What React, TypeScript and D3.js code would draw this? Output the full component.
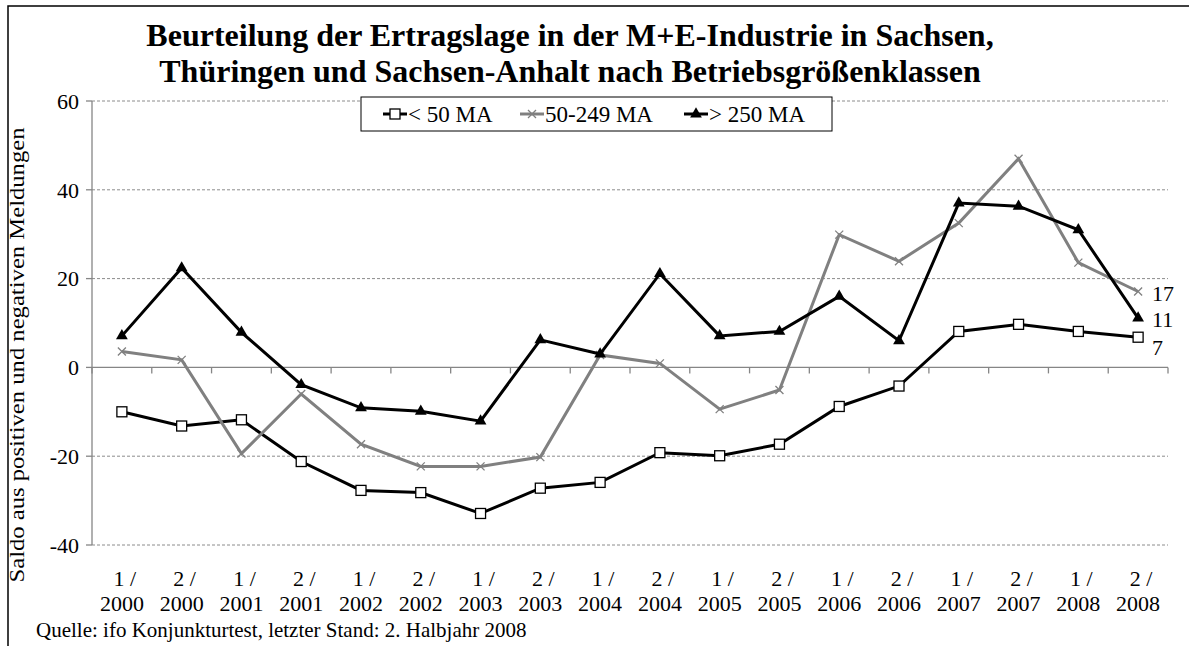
import React from 'react';
import * as d3 from 'd3';

// Halbjahre (1/2000 ... 2/2008)
const periods = [
  '1/2000', '2/2000', '1/2001', '2/2001', '1/2002', '2/2002', '1/2003', '2/2003', '1/2004',
  '2/2004', '1/2005', '2/2005', '1/2006', '2/2006', '1/2007', '2/2007', '1/2008', '2/2008',
];

const small = [-10, -13.2, -11.8, -21.2, -27.7, -28.2, -32.9, -27.2, -25.9, -19.2, -19.9, -17.3, -8.8, -4.2, 8.1, 9.7, 8.1, 6.8];
const medium = [3.6, 1.7, -19.4, -6.0, -17.3, -22.3, -22.3, -20.2, 2.8, 0.9, -9.4, -5.1, 29.9, 23.9, 32.5, 47.0, 23.6, 17.1];
const large = [7.1, 22.4, 7.9, -3.9, -9.1, -9.9, -12.1, 6.2, 3.0, 21.1, 7.1, 8.1, 16.0, 6.0, 37.0, 36.3, 31.0, 11.1];

const seriesNames = ['< 50 MA', '50-249 MA', '> 250 MA'];
const endLabels = ['7', '17', '11'];
const yTicks = [-40, -20, 0, 20, 40, 60];

const W = 1189;
const H = 646;
const FONT = '"Liberation Serif", "Times New Roman", serif';

export default function App() {
  const x = d3.scaleBand<string>().domain(periods).range([92, 1168]);
  const y = d3.scaleLinear().domain([-40, 60]).range([545, 101]);
  const cx = (p: string) => (x(p) ?? 0) + x.bandwidth() / 2;

  const line = d3.line<number>()
    .x((_, i) => cx(periods[i]))
    .y(d => y(d));

  const series = [
    { name: seriesNames[0], values: small, color: '#000', marker: 'square', label: endLabels[0], dy: 18 },
    { name: seriesNames[1], values: medium, color: '#808080', marker: 'cross', label: endLabels[1], dy: 10 },
    { name: seriesNames[2], values: large, color: '#000', marker: 'triangle', label: endLabels[2], dy: 9 },
  ];

  const marker = (kind: string, px: number, py: number, color: string, key: string | number) => {
    if (kind === 'square') {
      return <rect key={key} x={px - 5} y={py - 5} width={10} height={10} fill="#fff" stroke="#000" strokeWidth={1.3} />;
    }
    if (kind === 'triangle') {
      const tri = d3.symbol(d3.symbolTriangle, 60)();
      return <path key={key} d={tri ?? ''} transform={`translate(${px},${py})`} fill="#000" />;
    }
    const s = 4;
    return (
      <path key={key} d={`M${px - s},${py - s}L${px + s},${py + s}M${px - s},${py + s}L${px + s},${py - s}`}
        stroke={color} strokeWidth={1.3} fill="none" />
    );
  };

  const legendItems = [
    { lx: 395, tx: 408 },
    { lx: 532, tx: 545 },
    { lx: 696, tx: 709 },
  ];

  return (
    <svg width={W} height={H} style={{ position: 'absolute', left: 0, top: 0, background: '#fff' }} fontFamily={FONT}>
      <rect x={8} y={6} width={1300} height={800} fill="#fff" stroke="#000" strokeWidth={1.5} />

      {/* title */}
      <text x={570} y={46} textAnchor="middle" fontSize={32} fontWeight="bold" fill="#000">
        Beurteilung der Ertragslage in der M+E-Industrie in Sachsen,
      </text>
      <text x={570} y={82} textAnchor="middle" fontSize={32} fontWeight="bold" fill="#000">
        Thüringen und Sachsen-Anhalt nach Betriebsgrößenklassen
      </text>

      {/* gridlines */}
      {yTicks.filter(t => t !== 0).map(t => (
        <line key={t} x1={92} x2={1168} y1={y(t)} y2={y(t)} stroke="#8c8c8c" strokeWidth={1} strokeDasharray="3,2" />
      ))}

      {/* y axis */}
      <line x1={92} x2={92} y1={y(60)} y2={y(-40)} stroke="#868686" strokeWidth={1.3} />
      {yTicks.map(t => (
        <g key={t}>
          <line x1={86} x2={92} y1={y(t)} y2={y(t)} stroke="#868686" strokeWidth={1.3} />
          <text x={79} y={y(t)} dy="0.35em" textAnchor="end" fontSize={22} fill="#000">{t}</text>
        </g>
      ))}

      {/* x axis at zero */}
      <line x1={92} x2={1168} y1={y(0)} y2={y(0)} stroke="#868686" strokeWidth={1.3} />
      {[...periods.map(p => x(p) ?? 0), 1168].map((tx, i) => (
        <line key={i} x1={tx} x2={tx} y1={y(0)} y2={y(0) + 6} stroke="#868686" strokeWidth={1.3} />
      ))}

      {/* category labels */}
      {periods.map(p => {
        const [half, year] = p.split('/');
        return (
          <text key={p} x={cx(p)} textAnchor="middle" fontSize={22} fill="#000">
            <tspan x={cx(p) + 3} y={586}>{`${half} /`}</tspan>
            <tspan x={cx(p)} y={611}>{year}</tspan>
          </text>
        );
      })}

      {/* y axis title */}
      <text transform="translate(24,355) rotate(-90)" textAnchor="middle" fontSize={22} fill="#000"
        textLength={455} lengthAdjust="spacingAndGlyphs">
        Saldo aus positiven und negativen Meldungen
      </text>

      {/* series */}
      {series.map(s => (
        <g key={s.name}>
          <path d={line(s.values) ?? ''} fill="none" stroke={s.color} strokeWidth={3} strokeLinejoin="miter" />
          {s.values.map((v, i) => marker(s.marker, cx(periods[i]), y(v), s.color, i))}
          <text x={cx(periods[periods.length - 1]) + 14} y={y(s.values[s.values.length - 1]) + s.dy} fontSize={22} fill="#000">
            {s.label}
          </text>
        </g>
      ))}

      {/* legend */}
      <rect x={361} y={97} width={471} height={34} fill="#fff" stroke="#000" strokeWidth={1} />
      {series.map((s, i) => (
        <g key={s.name}>
          <line x1={legendItems[i].lx - 12} x2={legendItems[i].lx + 12} y1={114} y2={114} stroke={s.color} strokeWidth={3} />
          {marker(s.marker, legendItems[i].lx, 114, s.color, 'm')}
          <text x={legendItems[i].tx} y={114} dy="0.35em" fontSize={23} fill="#000">{s.name}</text>
        </g>
      ))}

      {/* source */}
      <text x={36} y={637} fontSize={21} fill="#000">Quelle: ifo Konjunkturtest, letzter Stand: 2. Halbjahr 2008</text>
    </svg>
  );
}
